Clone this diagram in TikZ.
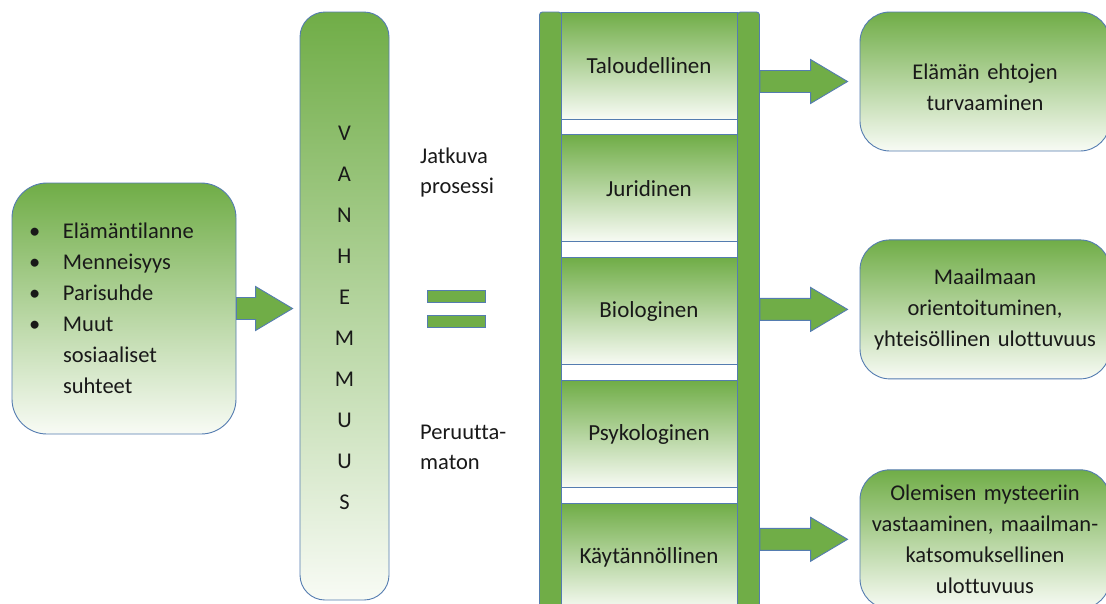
\documentclass[tikz,border=0pt]{standalone}
\usepackage{fontspec}
\setmainfont{Carlito}[Ligatures=NoCommon]
\usetikzlibrary{positioning,calc}

\definecolor{leafgreen}{RGB}{112,173,71}
\definecolor{paleleaf}{RGB}{248,251,245}
\definecolor{edgeblue}{RGB}{84,124,176}
\definecolor{inkgrey}{RGB}{25,25,25}

\newcommand\bul{\makebox[34pt][l]{\textbullet}}
% block arrow from #1 to the tip #2, at the height of #1
\newcommand\blockarrow[2]{%
  \draw[bigarrow] let \p1=(#1), \p2=(#2) in
    (\x1,{\y1+11pt}) -- ({\x2-37pt},{\y1+11pt}) -- ({\x2-37pt},{\y1+22pt})
    -- (\x2,\y1) -- ({\x2-37pt},{\y1-22pt}) -- ({\x2-37pt},{\y1-11pt})
    -- (\x1,{\y1-11pt}) -- cycle;}

\begin{document}
\begin{tikzpicture}
[x=1pt,y=-1pt,
gbox/.style={draw=edgeblue,line width=0.9pt,top color=leafgreen,bottom color=paleleaf,
font=\fontsize{22.5}{31}\selectfont,text=inkgrey},
rung/.style={gbox,minimum width=176pt,minimum height=107pt,inner sep=0pt,
font=\fontsize{23}{31}\selectfont},
rail/.style={draw=edgeblue,line width=0.9pt,fill=leafgreen,rounded corners=3pt,
minimum width=22pt,minimum height=600pt,inner sep=0pt},
goal/.style={gbox,rounded corners=30pt,minimum width=250pt,minimum height=139pt,
text width=236pt,inner xsep=7pt,align=center},
bar/.style={draw=edgeblue,line width=0.9pt,fill=leafgreen,minimum width=58pt,
minimum height=12pt,inner sep=0pt},
note/.style={font=\fontsize{22.5}{30}\selectfont,text=inkgrey,align=left,inner sep=0pt},
bigarrow/.style={draw=edgeblue,line width=0.9pt,fill=leafgreen,line join=miter}]

\useasboundingbox (0,0) rectangle (1106,603);
\clip (0,0) rectangle (1106,603);
\fill[white] (0,0) rectangle (1106,603);

% situation of life
\node[gbox,rounded corners=35pt,minimum width=224pt,minimum height=251pt,
text width=190pt,inner xsep=17pt,align=left] (situation) at (124,308.5)
{\bul Elämäntilanne\\ \bul Menneisyys\\ \bul Parisuhde\\ \bul Muut\\
\hspace*{34pt}sosiaaliset\\ \hspace*{34pt}suhteet};

% ageing column
\node[gbox,rounded corners=25pt,minimum width=89pt,minimum height=588pt] (vanhemmuus) at (344.5,306) {};
\node[note,align=center,font=\fontsize{22.5}{41}\selectfont] (vletters)
at ([yshift=-12pt]vanhemmuus.center) {V\\A\\N\\H\\E\\M\\M\\U\\U\\S};

\node[note,anchor=west] (jatkuva) at (420,172.5) {Jatkuva\\prosessi};
\node[bar] (eqtop) at (456,296) {};
\node[bar,below=13pt of eqtop] (eqbottom) {};
\node[note,anchor=west] (peruuttamaton) at (420,447) {Peruutta-\\maton};

% ladder
\node[rung] (talous) at (649,65.5) {Taloudellinen};
\node[rung,below=15pt of talous] (juridinen) {Juridinen};
\node[rung,below=15pt of juridinen] (biologinen) {Biologinen};
\node[rung,below=15pt of biologinen] (psykologinen) {Psykologinen};
\node[rung,below=15pt of psykologinen] (kaytannollinen) {Käytännöllinen};
\node[rail] (leftrail) at (550.5,312) {};
\node[rail] (rightrail) at (748.5,312) {};

% goals
\node[goal] (turva) at (985,81.5) {\rule{0pt}{27pt}Elämän ehtojen\\turvaaminen};
\node[goal,below=88pt of turva] (maailma) {Maailmaan\\orientoituminen,\\yhteisöllinen ulottuvuus};
\node[goal,below=90pt of maailma] (mysteeri) {Olemisen mysteeriin\\vastaaminen, maailman-\\katsomuksellinen\\ulottuvuus};

\blockarrow{situation.east}{[xshift=-7pt]vanhemmuus.west}
\blockarrow{rightrail.east |- turva.west}{[xshift=-12pt]turva.west}
\blockarrow{rightrail.east |- maailma.west}{[xshift=-12pt]maailma.west}
\blockarrow{rightrail.east |- mysteeri.west}{[xshift=-12pt]mysteeri.west}

\end{tikzpicture}
\end{document}
